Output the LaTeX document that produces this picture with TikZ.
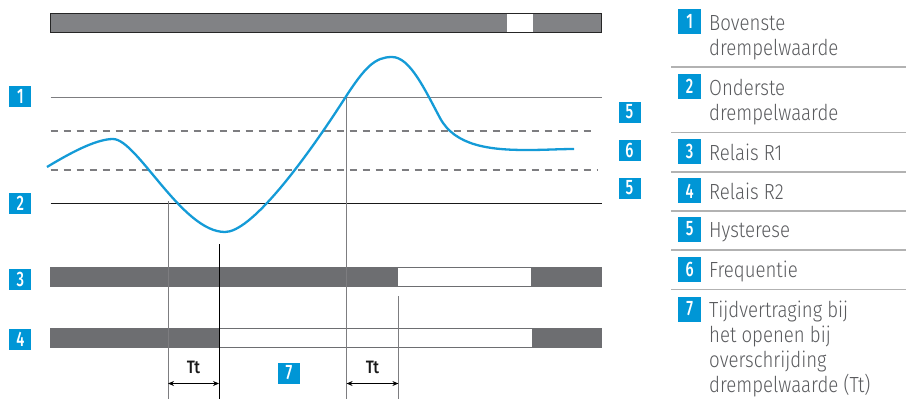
\documentclass[tikz,border=0pt]{standalone}
\usepackage{fontspec}
\setmainfont{Fira Sans}
\newfontfamily\legendfont{Fira Sans Light}[FakeStretch=0.85]
\newfontfamily\badgefont{Fira Sans Medium}[FakeStretch=0.7]
\newfontfamily\spanfont{Fira Sans Medium}[FakeStretch=0.85]
\usetikzlibrary{arrows.meta}
\definecolor{badgeblue}{RGB}{0,150,214}
\definecolor{curveblue}{RGB}{20,155,215}
\definecolor{bardark}{RGB}{109,110,113}
\definecolor{barlight}{RGB}{129,130,133}
\definecolor{legendtext}{RGB}{90,91,94}
\definecolor{rulegray}{RGB}{125,125,128}
\begin{document}
\begin{tikzpicture}[x=1bp,y=-1bp,
  badge/.style={fill=badgeblue,text=white,inner sep=0pt,minimum width=22bp,minimum height=21bp,
    font=\badgefont\fontsize{21}{21}\selectfont},
  bigbadge/.style={badge,minimum width=23bp,minimum height=25bp},
  entry/.style={anchor=base west,inner sep=0pt,text=legendtext,align=left,
    font=\legendfont\fontsize{22}{25}\selectfont},
  level/.style={rulegray,line width=1.1bp},
  hyst/.style={rulegray,line width=1.1bp,dash pattern=on 7bp off 6bp},
  marker/.style={rulegray,line width=1bp},
  sep/.style={black!30,line width=1.6bp},
  relaybar/.style={draw=bardark,line width=1bp},
  tlabel/.style={anchor=base,inner sep=0pt,text=black!90,font=\spanfont\fontsize{18}{18}\selectfont},
  span/.style={{Stealth[length=6bp,width=5bp]}-{Stealth[length=6bp,width=5bp]},black,line width=0.9bp}]
\useasboundingbox (0,0) rectangle (906,399);

\fill[barlight] (50.5,13.5) rectangle (507,32.3);
\fill[barlight] (533,13.5) rectangle (601.5,32.3);
\draw[black!85,line width=1.2bp] (50.5,13.5) rectangle (601.5,32.3);

\coordinate (up1) at (50.7,97.7);
\coordinate (up2) at (601.7,97.7);
\coordinate (lo1) at (50.7,203.3);
\coordinate (lo2) at (601.7,203.3);
\draw[level] (up1) -- (up2);
\draw[level,black!90] (lo1) -- (lo2);
\draw[hyst] (50.7,131) -- (592,131);
\draw[hyst] (50.7,170) -- (598,170);

\fill[bardark] (50.5,267) rectangle (398.4,286);
\fill[bardark] (531,267) rectangle (601.5,286);
\draw[relaybar] (50.5,267) rectangle (601.5,286);
\fill[bardark] (50.5,328) rectangle (219.4,347);
\fill[bardark] (531.6,328) rectangle (601.5,347);
\draw[relaybar] (50.5,328) rectangle (601.5,347);

\coordinate (m1) at (168,201);
\coordinate (m2) at (219,244);
\coordinate (m3) at (346.6,97.7);
\coordinate (m4) at (398.4,296);
\draw[marker] (m1) -- (m1 |- 0,399);
\draw[marker,black] (m2) -- (m2 |- 0,399);
\draw[marker] (m3) -- (m3 |- 0,399);
\draw[marker] (m4) -- (m4 |- 0,399);
\draw[span] (m1 |- 0,383.5) -- (m2 |- 0,383.5);
\draw[span] (m3 |- 0,383.5) -- (m4 |- 0,383.5);
\node[tlabel] (tt1) at (193.5,373.5) {Tt};
\node[tlabel] (tt2) at (372.5,373.5) {Tt};

\draw[curveblue,line width=2.3bp] (47,167) .. controls (75,150) and (98,139) .. (113,139)
  .. controls (137,139) and (182,232) .. (225,232)
  .. controls (250,232) and (300,168) .. (345,98)
  .. controls (365,67) and (375,57) .. (392,57)
  .. controls (410,57) and (425,90) .. (440,118)
  .. controls (455,146) and (490,150) .. (527,150)
  .. controls (545,150) and (560,149) .. (574,149);

\node[badge] (n1) at (20.3,96.5) {1};
\node[badge] (n2) at (20.3,203.5) {2};
\node[badge] (n3) at (20.3,279.5) {3};
\node[badge] (n4) at (20.3,339) {4};
\node[badge] (n5a) at (629.5,112) {5};
\node[badge] (n6) at (629.5,150.3) {6};
\node[badge] (n5b) at (629.5,188) {5};
\node[badge] (n7) at (289,373) {7};

\foreach \y in {66.7,132.3,171.7,210.7,250,289.3}
  \draw[sep] (671,\y) -- (906,\y);
\node[bigbadge] (k1) at (689.7,21.5) {1};
\node[bigbadge] (k2) at (689.7,86.5) {2};
\node[bigbadge] (k3) at (689.7,151.5) {3};
\node[bigbadge] (k4) at (689.7,190.9) {4};
\node[bigbadge] (k5) at (689.7,229) {5};
\node[bigbadge] (k6) at (689.7,269) {6};
\node[bigbadge] (k7) at (689.7,309) {7};
\node[entry] (e1) at (709,55) {Bovenste\\drempelwaarde};
\node[entry] (e2) at (709,120) {Onderste\\drempelwaarde};
\node[entry] (e3) at (709,160) {Relais R1};
\node[entry] (e4) at (709,199.4) {Relais R2};
\node[entry] (e5) at (709,237.5) {Hysterese};
\node[entry] (e6) at (709,277.5) {Frequentie};
\node[entry] (e7) at (709,392.5) {Tijdvertraging bij\\het openen bij\\overschrijding\\drempelwaarde (Tt)};
\end{tikzpicture}
\end{document}
